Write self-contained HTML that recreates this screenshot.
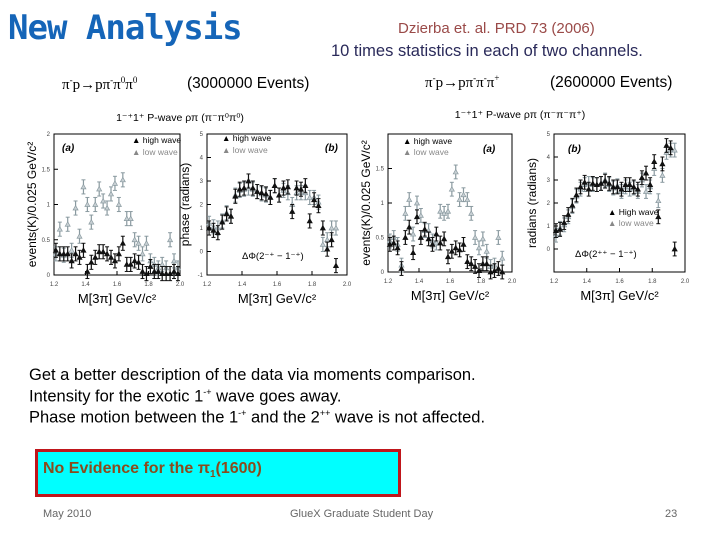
<!DOCTYPE html>
<html><head><meta charset="utf-8"><style>
body{margin:0;width:720px;height:540px;background:#fff;position:relative;overflow:hidden;font-family:"Liberation Sans",sans-serif}
.t{position:absolute;white-space:nowrap}
</style></head><body>
<div class="t" style="left:8px;top:8px;font:bold 34px 'DejaVu Sans Mono','Liberation Mono',monospace;color:#1565b8;letter-spacing:-1px">New Analysis</div>
<div class="t" style="left:398px;top:20px;font-size:15px;color:#9a4a48">Dzierba et. al. PRD 73 (2006)</div>
<div class="t" style="left:331px;top:42px;font-size:16.5px;color:#2a2a5a">10 times statistics in each of two channels.</div>
<div class="t" style="left:62px;top:75px;font:15px 'Liberation Serif',serif">π<sup style="font-size:9px">-</sup>p→pπ<sup style="font-size:9px">-</sup>π<sup style="font-size:9px">0</sup>π<sup style="font-size:9px">0</sup></div>
<div class="t" style="left:187px;top:75px;font-size:15.5px">(3000000 Events)</div>
<div class="t" style="left:425px;top:73px;font:15px 'Liberation Serif',serif">π<sup style="font-size:9px">-</sup>p→pπ<sup style="font-size:9px">-</sup>π<sup style="font-size:9px">-</sup>π<sup style="font-size:9px">+</sup></div>
<div class="t" style="left:550px;top:74px;font-size:15.5px">(2600000 Events)</div>

<svg id="ch" width="720" height="320" style="position:absolute;left:0;top:0" font-family="Liberation Sans, sans-serif"></svg>

<div class="t" style="left:29px;top:366px;font-size:16.5px">Get a better description of the data via moments comparison.</div>
<div class="t" style="left:29px;top:387px;font-size:16.5px">Intensity for the exotic 1<sup style="font-size:9px">-+</sup> wave goes away.</div>
<div class="t" style="left:29px;top:408px;font-size:16.5px">Phase motion between the 1<sup style="font-size:9px">-+</sup> and the 2<sup style="font-size:9px">++</sup> wave is not affected.</div>
<div style="position:absolute;left:35px;top:449px;width:360px;height:42px;background:#00ffff;border:3px solid #c0161b"></div>
<div class="t" style="left:43px;top:460px;font:bold 16px 'Liberation Sans',sans-serif;color:#8a4b1c">No Evidence for the π<sub style="font-size:10px">1</sub>(1600)</div>
<div class="t" style="left:43px;top:508px;font-size:11px;color:#666">May 2010</div>
<div class="t" style="left:290px;top:508px;font-size:11px;color:#666">GlueX Graduate Student Day</div>
<div class="t" style="left:665px;top:508px;font-size:11px;color:#666">23</div>

<script>
const masses=[1.2,1.225,1.25,1.275,1.3,1.325,1.35,1.375,1.4,1.425,1.45,1.475,1.5,1.525,1.55,1.575,1.6,1.625,1.65,1.675,1.7,1.725,1.75,1.775,1.8,1.825,1.85,1.875,1.9,1.925,1.95,1.975];
const p1High=[0.35,0.3,0.3,0.3,0.2,0.3,0.25,0.35,0.05,0.18,0.25,0.33,0.33,0.3,0.25,0.2,0.3,0.45,0.15,0.15,0.2,0.18,0.05,0.02,0.12,0.05,0.05,0.02,0.02,0.02,0.05,0.02];
const p1Low=[0.3,0.65,0.28,0.72,0.35,0.95,0.55,1.25,1.0,0.75,1.0,1.22,1.05,0.95,1.15,1.3,1.0,1.35,0.8,0.8,0.5,0.45,0.3,0.45,0.2,0.15,0.1,0.15,0.1,0.5,0.2,0.1];
const p2High=[1.0,0.9,0.8,1.25,1.6,1.5,2.35,2.65,2.7,3.0,2.7,2.55,2.5,2.45,2.3,2.8,2.4,2.7,2.75,1.7,2.7,2.65,2.8,1.3,2.2,1.95,1.0,0.1,0.5,-0.6];
const p2Low=[1.2,1.05,1.0,1.3,1.65,1.5,2.4,2.6,2.65,2.7,2.65,2.55,2.45,2.4,2.3,2.8,2.4,2.6,2.5,2.0,2.5,2.5,2.5,2.3,2.3,2.1,0.3,0.5,1.0,1.0];
const p3High=[0.4,0.42,0.35,0.05,0.5,0.65,0.28,0.8,0.5,0.62,0.48,0.4,0.55,0.42,0.48,0.22,0.3,0.35,0.32,0.4,0.15,0.12,0.08,0.02,0.12,0.12,0.0,0.02,0.05,0.0];
const p3Low=[0.45,0.5,0.4,0.1,0.85,1.05,0.55,1.0,0.82,0.6,0.6,0.45,0.42,0.88,0.85,0.88,1.2,1.45,1.05,1.12,1.05,0.85,0.5,0.35,0.48,0.3,0.08,0.1,0.5,0.2];
const p4High=[0.8,0.85,1.15,1.5,1.9,2.35,2.7,2.9,2.6,2.85,2.8,2.85,2.95,2.85,2.7,2.7,2.6,2.8,2.8,2.7,2.6,3.1,3.3,2.8,3.8,1.4,3.7,4.5,4.4,0.0];
const p4Low=[0.6,0.9,1.05,1.4,1.85,2.3,2.6,2.8,2.85,2.8,2.8,2.85,3.0,2.8,2.65,2.75,2.5,2.7,2.6,2.65,2.5,3.0,2.5,2.7,3.5,2.1,3.2,4.2,4.3,4.3];
const xTicks=["1.2","1.4","1.6","1.8","2.0"];
const ns="http://www.w3.org/2000/svg";
const svg=document.getElementById('ch');
function el(t,a,p){const e=document.createElementNS(ns,t);for(const k in a)e.setAttribute(k,a[k]);(p||svg).appendChild(e);return e;}
function panel(name,L,R,T,B,ymin,ymax,yt,high,low,err,ytitle,tag){
 const g=el('g',{});
 
 
 const sx=v=>L+(v-1.2)/0.8*(R-L), sy=v=>B-(v-ymin)/(ymax-ymin)*(B-T);
 el('rect',{x:L,y:T,width:R-L,height:B-T,fill:'none',stroke:'#000','stroke-width':1},g);
 xTicks.forEach(t=>{const x=sx(+t);el('line',{x1:x,x2:x,y1:B,y2:B-4,stroke:'#000'},g);const tx=el('text',{x:x,y:B+11,'font-size':6,'text-anchor':'middle',fill:'#444'},g);tx.textContent=t;});
 yt.forEach(t=>{const y=sy(t);el('line',{x1:L,x2:L+4,y1:y,y2:y,stroke:'#000'},g);const tx=el('text',{x:L-4,y:y+2,'font-size':6,'text-anchor':'end',fill:'#444'},g);tx.textContent=t;});
 const xt=el('text',{x:(L+R)/2,y:B+28,'font-size':13,'text-anchor':'middle'},g);xt.textContent='M[3π]  GeV/c²';
 const yl=el('text',{x:0,y:0,'font-size':12,'text-anchor':'middle',transform:`translate(${L-18},${(T+B)/2}) rotate(-90)`},g);yl.textContent=ytitle;
 const tg=el('text',{x:tag[0],y:tag[1],'font-size':10,'font-weight':'bold','font-style':'italic'},g);tg.textContent=tag[2];
 const draw=(arr,col,fill,nm)=>arr.forEach((v,i)=>{if(i>=masses.length)return;const x=sx(masses[i]+0.012),y=sy(v),e=err*(B-T)/(ymax-ymin);
  const s=el('g',{},g);
  
  
  el('line',{x1:x,x2:x,y1:y-e,y2:y+e,stroke:col,'stroke-width':1.2},s);
  el('line',{x1:x-2,x2:x+2,y1:y-e,y2:y-e,stroke:col},s);
  el('line',{x1:x-2,x2:x+2,y1:y+e,y2:y+e,stroke:col},s);
  el('path',{d:`M${x-2.5},${y+2} L${x+2.5},${y+2} L${x},${y-2.5}Z`,fill:fill,stroke:col,'stroke-width':0.7},s);});
 draw(low,'#8a9aa0','#c8d0d4','low-wave-point');
 draw(high,'#111','#111','high-wave-point');
}
const h1=el('text',{x:180,y:121,'font-size':10.5,'text-anchor':'middle'});h1.textContent='1⁻⁺1⁺ P-wave ρπ   (π⁻π⁰π⁰)';
const h2=el('text',{x:520,y:118,'font-size':10.5,'text-anchor':'middle'});h2.textContent='1⁻⁺1⁺ P-wave ρπ   (π⁻π⁻π⁺)';
panel('panel-intensity-neutral',54,180,134,275,0,2.0,[0,0.5,1.0,1.5,2.0],p1High,p1Low,0.1,'events(K)/0.025 GeV/c²',[62,151,'(a)']);
panel('panel-phase-neutral',207,347,134,275,-1,5,[-1,0,1,2,3,4,5],p2High,p2Low,0.3,'phase (radians)',[325,151,'(b)']);
panel('panel-intensity-charged',388,512,134,272,0,2.0,[0,0.5,1.0,1.5],p3High,p3Low,0.1,'events(K)/0.025 GeV/c²',[483,152,'(a)']);
panel('panel-phase-charged',554,685,134,272,-1,5,[0,1,2,3,4,5],p4High,p4Low,0.3,'radians (radians)',[568,152,'(b)']);
[[132,143,'high wave','#000'],[132,155,'low wave','#888'],[222,141,'high wave','#000'],[222,153,'low wave','#888'],[403,144,'high wave','#000'],[403,155,'low wave','#888'],[608,215,'High wave','#000'],[608,226,'low wave','#888']].forEach(l=>{
 const t=el('text',{x:l[0],y:l[1],'font-size':8.5,fill:l[3]});
 
 
 t.textContent='▲ '+l[2];});
const d1=el('text',{x:242,y:259,'font-size':9.5});d1.textContent='ΔΦ(2⁻⁺ − 1⁻⁺)';
const d2=el('text',{x:575,y:257,'font-size':9.5});d2.textContent='ΔΦ(2⁺⁺ − 1⁻⁺)';
</script>
</body></html>
